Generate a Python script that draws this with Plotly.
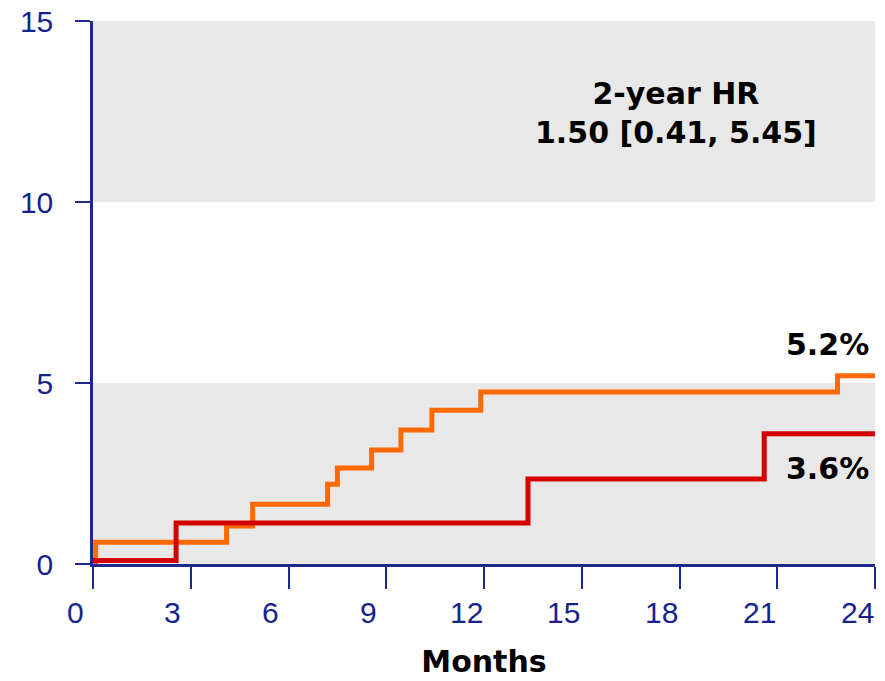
import plotly.graph_objects as go

# cumulative incidence (%), step curves
months_orange = [0.08, 0.08, 4.1, 4.9, 7.2, 7.5, 8.55, 9.45, 10.4, 11.9, 22.85, 24]
pct_orange = [0, 0.6, 1.05, 1.65, 2.2, 2.65, 3.15, 3.7, 4.25, 4.75, 5.2, 5.2]

months_red = [0, 2.55, 13.35, 20.6, 24]
pct_red = [0.1, 1.13, 2.35, 3.6, 3.6]

x_ticks = [0, 3, 6, 9, 12, 15, 18, 21, 24]
y_ticks = [0, 5, 10, 15]
bands = [(0, 5), (10, 15)]

end_labels = ["5.2%", "3.6%"]
hr_text = "2-year HR<br>1.50 [0.41, 5.45]"

navy = "#1b2a8c"
tick_font = dict(family="Liberation Sans Narrow, Liberation Sans, sans-serif", size=30, color="#16238c")
bold = "DejaVu Sans, sans-serif"

fig = go.Figure()

fig.add_trace(go.Scatter(x=months_orange, y=pct_orange, mode="lines",
                         line=dict(shape="hv", color="#ff6a00", width=5),
                         showlegend=False, hoverinfo="skip"))
fig.add_trace(go.Scatter(x=months_red, y=pct_red, mode="lines",
                         line=dict(shape="hv", color="#d40000", width=5),
                         showlegend=False, hoverinfo="skip"))

for y0, y1 in bands:
    fig.add_shape(type="rect", xref="x", yref="y", x0=x_ticks[0], x1=x_ticks[-1],
                  y0=y0, y1=y1, fillcolor="#e8e8e8", line_width=0, layer="below")

# x tick labels sit a little left of their ticks in the original
for t in x_ticks:
    fig.add_annotation(x=t, xref="x", y=0, yref="paper", text=str(t), showarrow=False,
                       xshift=-18, yanchor="top", yshift=-30, font=tick_font)

fig.add_annotation(x=22.55, y=6.05, text="<b>%s</b>" % end_labels[0], showarrow=False,
                   font=dict(family=bold, size=30, color="black"))
fig.add_annotation(x=22.55, y=2.65, text="<b>%s</b>" % end_labels[1], showarrow=False,
                   font=dict(family=bold, size=30, color="black"))
fig.add_annotation(x=17.9, y=12.45, text="<b>%s</b>" % hr_text, showarrow=False,
                   font=dict(family=bold, size=30, color="black"))

# page body keeps its 8px default margin, so the figure is 8px smaller
fig.update_layout(
    width=877, height=673,
    margin=dict(l=85, r=10, t=13, b=117),
    plot_bgcolor="white", paper_bgcolor="white",
    xaxis=dict(range=[0, 24], tickvals=x_ticks, showticklabels=False,
               ticks="outside", ticklen=22, tickwidth=2, tickcolor=navy,
               showline=True, linewidth=2.5, linecolor=navy, automargin=False,
               showgrid=False, zeroline=False, fixedrange=True,
               title=dict(text="<b>Months</b>", standoff=64,
                          font=dict(family=bold, size=30, color="black"))),
    yaxis=dict(range=[0, 15], tickvals=y_ticks, ticks="outside", ticklen=15, tickwidth=2,
               tickcolor=navy, tickfont=tick_font, ticklabelstandoff=16, automargin=False,
               ticklabeloverflow="allow",
               showline=True, linewidth=2.5, linecolor=navy,
               showgrid=False, zeroline=False, fixedrange=True),
)

fig.write_html("out.html")
